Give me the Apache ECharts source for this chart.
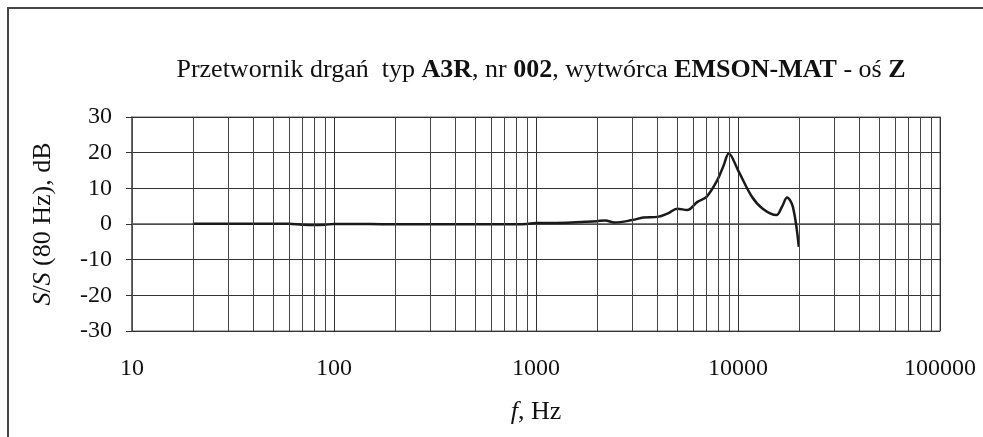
<!DOCTYPE html>
<html>
<head>
<meta charset="utf-8">
<script src="https://cdn.jsdelivr.net/npm/echarts@6/dist/echarts.min.js"></script>
<style>
  html, body { margin: 0; padding: 0; background: #fff; }
  #chart { width: 983px; height: 437px; }
</style>
</head>
<body>
<div id="chart"></div>
<script>
// czestotliwosc, Hz
var freqs = [20, 30, 40, 50, 60, 70, 80, 90, 100, 150, 200, 250, 300, 400, 500, 600, 700, 800, 900,
  1000, 1250, 1500, 1750, 2000, 2200, 2450, 3000, 3400, 4000, 4500, 5000, 5600, 6300, 7000, 7900,
  8500, 9000, 10000, 11700, 13300, 15500, 16500, 17500, 18700, 20000];
// S/S(80 Hz), dB
var gains = [0.1, 0.1, 0.1, 0.1, 0.05, -0.2, -0.3, -0.2, 0, 0, -0.1, -0.1, -0.1, -0.1, -0.1, -0.1, -0.1, -0.1, 0,
  0.3, 0.3, 0.4, 0.6, 0.8, 1.0, 0.4, 1.1, 1.8, 2.0, 3.0, 4.3, 3.9, 6.2, 7.7, 12.3,
  16.5, 19.8, 15.1, 7.7, 4.2, 2.5, 4.8, 7.4, 4.8, -6.4];
var xTicks = [10, 100, 1000, 10000, 100000];
var yTicks = [-30, -20, -10, 0, 10, 20, 30];

// linie siatki pomocniczej 2..9 w kazdej dekadzie
var minorGrid = [];
for (var d = 10; d < 100000; d *= 10) {
  for (var k = 2; k <= 9; k++) minorGrid.push(d * k);
}

var font = "Liberation Serif";
var myChart = echarts.init(document.getElementById("chart"));

var option = {
  backgroundColor: "#fff",
  animation: false,
  textStyle: { fontFamily: font },
  graphic: [
    {
      type: "rect",
      shape: { x: 8, y: 8, width: 1000, height: 500 },
      style: { fill: "none", stroke: "#444", lineWidth: 2 },
      silent: true,
    },
  ],
  title: {
    text: "Przetwornik drgań  typ {b|A3R}, nr {b|002}, wytwórca {b|EMSON-MAT} - oś {b|Z}",
    left: 536,
    textAlign: "center",
    top: 52,
    textStyle: {
      fontFamily: font,
      fontSize: 26,
      fontWeight: "normal",
      color: "#111",
      rich: {
        b: { fontFamily: font, fontSize: 26, fontWeight: "bold", color: "#111" },
      },
    },
  },
  grid: {
    left: 132,
    right: 43,
    top: 117,
    bottom: 106,
    show: true,
    borderColor: "#999",
    borderWidth: 1.5,
  },
  xAxis: {
    type: "log",
    logBase: 10,
    min: xTicks[0],
    max: xTicks[xTicks.length - 1],
    name: "{i|f}, Hz",
    nameLocation: "middle",
    nameGap: 68,
    nameTextStyle: {
      fontFamily: font,
      fontSize: 26,
      color: "#111",
      rich: { i: { fontFamily: font, fontSize: 26, fontStyle: "italic", color: "#111" } },
    },
    axisLine: { show: true, lineStyle: { color: "#555", width: 1.5 } },
    axisTick: { show: false },
    axisLabel: {
      margin: 26,
      fontSize: 24,
      color: "#111",
      fontFamily: font,
      formatter: function (v) { return String(Math.round(v)); },
    },
    splitLine: { show: true, lineStyle: { color: "#333", width: 1 } },
  },
  yAxis: {
    type: "value",
    min: yTicks[0],
    max: yTicks[yTicks.length - 1],
    interval: 10,
    name: "{i|S}/{i|S} (80 Hz), dB",
    nameLocation: "middle",
    nameRotate: 90,
    nameGap: 76,
    nameTextStyle: {
      fontFamily: font,
      fontSize: 26,
      color: "#111",
      rich: { i: { fontFamily: font, fontSize: 26, fontStyle: "italic", color: "#111" } },
    },
    axisLine: { show: true, lineStyle: { color: "#555", width: 1.5 } },
    axisTick: { show: true, length: 6, lineStyle: { color: "#333" } },
    axisLabel: { margin: 20, fontSize: 24, color: "#111", fontFamily: font },
    splitLine: { show: true, lineStyle: { color: "#333", width: 1 } },
  },
  series: [
    {
      type: "line",
      data: freqs.map(function (f, i) { return [f, gains[i]]; }),
      smooth: 0.35,
      showSymbol: false,
      lineStyle: { color: "#1a1a1a", width: 2.5 },
      markLine: {
        silent: true,
        symbol: "none",
        label: { show: false },
        lineStyle: { color: "#444", width: 1, type: "solid" },
        data: minorGrid.map(function (v) { return { xAxis: v }; }),
      },
      z: 3,
    },
  ],
};

myChart.setOption(option);
window.onresize = function () {
  myChart.resize();
};
</script>
</body>
</html>
